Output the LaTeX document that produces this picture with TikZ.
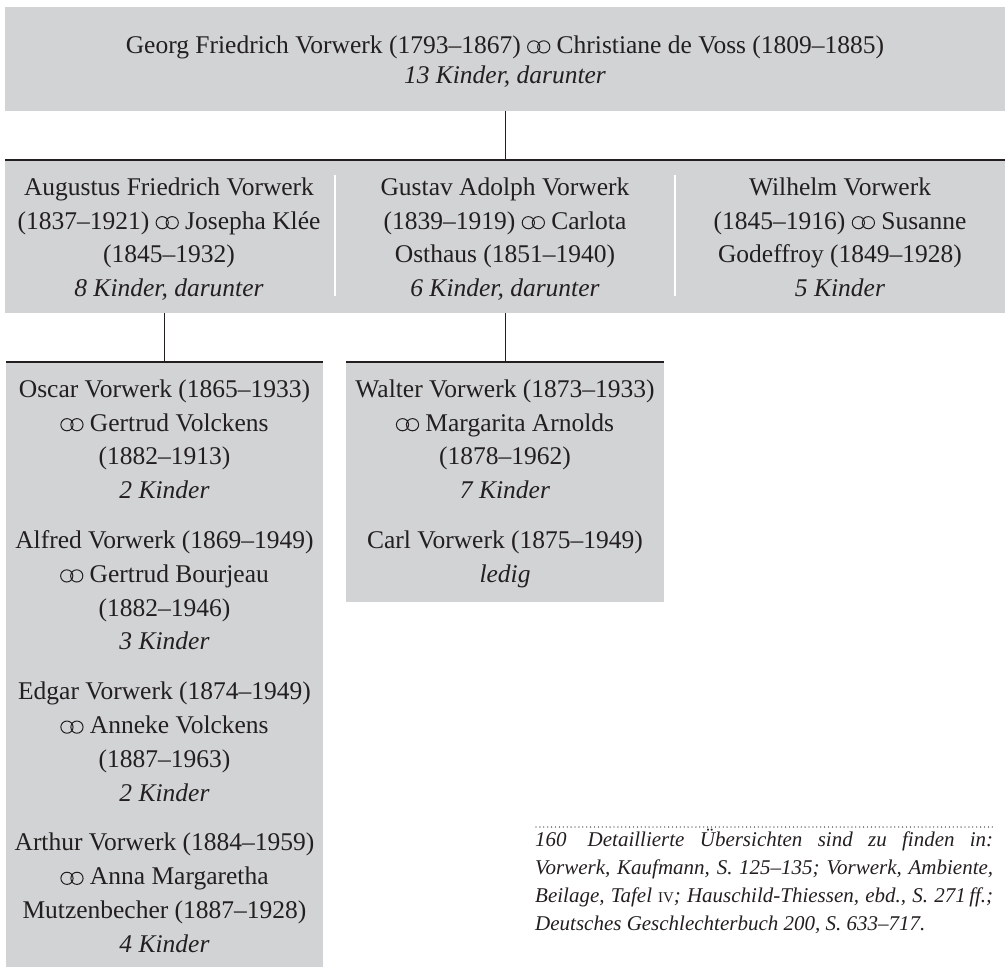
\documentclass[tikz,border=0pt]{standalone}
\usepackage{fontspec}
\setmainfont{Liberation Serif}
\definecolor{boxgray}{HTML}{D1D3D4}
\definecolor{ink}{HTML}{231F20}
\newcommand\mar{\tikz[baseline=0pt]{\draw[ink,line width=1.0pt] (6.4pt,6.3pt) circle[radius=6.1pt] (16.4pt,6.3pt) circle[radius=6.1pt];}}
\newcommand\fst{\rule{0pt}{25pt}}
\newcommand\fnst{\rule{0pt}{21pt}}
\begin{document}
\begin{tikzpicture}[x=1pt,y=-1pt,
  graybox/.style={fill=boxgray, draw=none, inner sep=0pt, anchor=north west},
  conn/.style={draw=ink, line width=1.3pt},
  bar/.style={draw=ink, line width=2.6pt},
  sep/.style={draw=white, line width=1.6pt},
  txt/.style={font=\fontsize{25.5}{33.8}\selectfont, text=ink, align=center, inner sep=0pt, anchor=north},
  toptxt/.style={font=\fontsize{25.5}{30}\selectfont, text=ink, align=center, inner sep=0pt, anchor=north},
  fntxt/.style={font=\fontsize{21}{28.2}\selectfont\itshape, text=ink, align=left, inner sep=0pt, anchor=north west},
  dotline/.style={draw=ink, line width=1.3pt, line cap=round, dash pattern=on 0pt off 3.9pt}]
\useasboundingbox (0,0) rectangle (1005,967);

% boxes
\node[graybox, minimum width=1000pt, minimum height=104pt] (top) at (5,7) {};
\node[graybox, minimum width=1000pt, minimum height=153pt] (row2) at (5,160) {};
\node[graybox, minimum width=317pt, minimum height=605pt] (leftbox) at (6,362) {};
\node[graybox, minimum width=318pt, minimum height=240pt] (midbox) at (346,362) {};

% bars
\draw[bar] (row2.north west) -- (row2.north east);
\draw[bar] (leftbox.north west) -- (leftbox.north east);
\draw[bar] (midbox.north west) -- (midbox.north east);

% connectors
\draw[conn] (top.south) -- (row2.north);
\draw[conn] (leftbox.north |- row2.south) -- (leftbox.north);
\draw[conn] (midbox.north |- row2.south) -- (midbox.north);

% column separators
\coordinate (s1a) at (335,175); \coordinate (s1b) at (335,296);
\coordinate (s2a) at (675,175); \coordinate (s2b) at (675,296);
\draw[sep] (s1a) -- (s1b);
\draw[sep] (s2a) -- (s2b);

% texts
\node[toptxt] (ttop) at (505,28) {\fst Georg Friedrich Vorwerk (1793–1867) \mar{} Christiane de Voss (1809–1885)\\ \textit{13 Kinder, darunter}};

\node[txt] (c1) at (169,170) {\fst Augustus Friedrich Vorwerk\\ (1837–1921) \mar{} Josepha Klée\\ (1845–1932)\\ \textit{8 Kinder, darunter}};
\node[txt] (c2) at (505,170) {\fst Gustav Adolph Vorwerk\\ (1839–1919) \mar{} Carlota\\ Osthaus (1851–1940)\\ \textit{6 Kinder, darunter}};
\node[txt] (c3) at (840,170) {\fst Wilhelm Vorwerk\\ (1845–1916) \mar{} Susanne\\ Godeffroy (1849–1928)\\ \textit{5 Kinder}};

\node[txt] (l1) at (164.5,372) {\fst Oscar Vorwerk (1865–1933)\\ \mar{} Gertrud Volckens\\ (1882–1913)\\ \textit{2 Kinder}\\[16pt]
Alfred Vorwerk (1869–1949)\\ \mar{} Gertrud Bourjeau\\ (1882–1946)\\ \textit{3 Kinder}\\[16pt]
Edgar Vorwerk (1874–1949)\\ \mar{} Anneke Volckens\\ (1887–1963)\\ \textit{2 Kinder}\\[16pt]
Arthur Vorwerk (1884–1959)\\ \mar{} Anna Margaretha\\ Mutzenbecher (1887–1928)\\ \textit{4 Kinder}};

\node[txt] (m1) at (505,372) {\fst Walter Vorwerk (1873–1933)\\ \mar{} Margarita Arnolds\\ (1878–1962)\\ \textit{7 Kinder}\\[16pt]
Carl Vorwerk (1875–1949)\\ \textit{ledig}};

% footnote
\coordinate (fnl) at (536,827);
\coordinate (fnr) at (993,827);
\draw[dotline] (fnl) -- (fnr);
\node[fntxt] (fn) at (535,825) {\fnst\makebox[458pt][s]{160\quad Detaillierte Übersichten sind zu finden in:}\\
\makebox[458pt][s]{Vorwerk, Kaufmann, S. 125–135; Vorwerk, Ambiente,}\\
\makebox[458pt][s]{Beilage, Tafel {\upshape\fontsize{15}{15}\selectfont IV}; Hauschild-Thiessen, ebd., S. 271\,ff.;}\\
Deutsches Geschlechterbuch 200, S. 633–717.};
\end{tikzpicture}
\end{document}
